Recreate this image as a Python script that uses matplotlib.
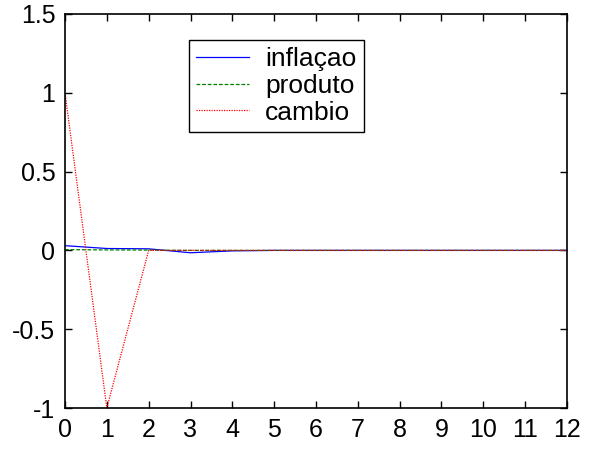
import numpy as np
import matplotlib
matplotlib.use('Agg')
import matplotlib.pyplot as plt

plt.rcParams['font.family'] = ['Liberation Sans', 'DejaVu Sans']

periodo = list(range(13))
inflacao = [0.03, 0.012, 0.01, -0.015, -0.003, 0, 0, 0, 0, 0, 0, 0, 0]
produto = [0.005, 0.003, 0.002, 0.0, 0, 0, 0, 0, 0, 0, 0, 0, 0]
cambio = [1.0, -1.0, 0.0, 0, 0, 0, 0, 0, 0, 0, 0, 0, 0]

fig = plt.figure(figsize=(5.96, 4.5), dpi=100)
ax = fig.add_axes([65/596, 1 - 408/450, 502/596, 394/450])

ax.plot(periodo, inflacao, '-', color='#0000ff', linewidth=0.9, label='inflaçao')
ax.plot(periodo, produto, '--', color='#008000', linewidth=0.9, dashes=(3, 1.5), label='produto')
ax.plot(periodo, cambio, ':', color='#ff0000', linewidth=0.9, dashes=(1, 1), label='cambio')

ax.set_xlim(0, 12)
ax.set_ylim(-1, 1.5)
ax.set_xticks(range(13))
ax.set_yticks([-1, -0.5, 0, 0.5, 1, 1.5])
ax.set_yticklabels(['-1', '-0.5', '0', '0.5', '1', '1.5'])
ax.tick_params(direction='in', top=True, right=True, labelsize=18, length=5, width=1, pad=7)
for s in ax.spines.values():
    s.set_linewidth(1.2)

leg = ax.legend(loc='upper left', bbox_to_anchor=(0.247, 0.934), fontsize=19,
                fancybox=False, edgecolor='black', framealpha=1,
                handlelength=2.0, handletextpad=0.6, borderpad=0.28,
                labelspacing=0.1, borderaxespad=0)
leg.get_frame().set_linewidth(1.0)

fig.savefig('out.png', dpi=100)
